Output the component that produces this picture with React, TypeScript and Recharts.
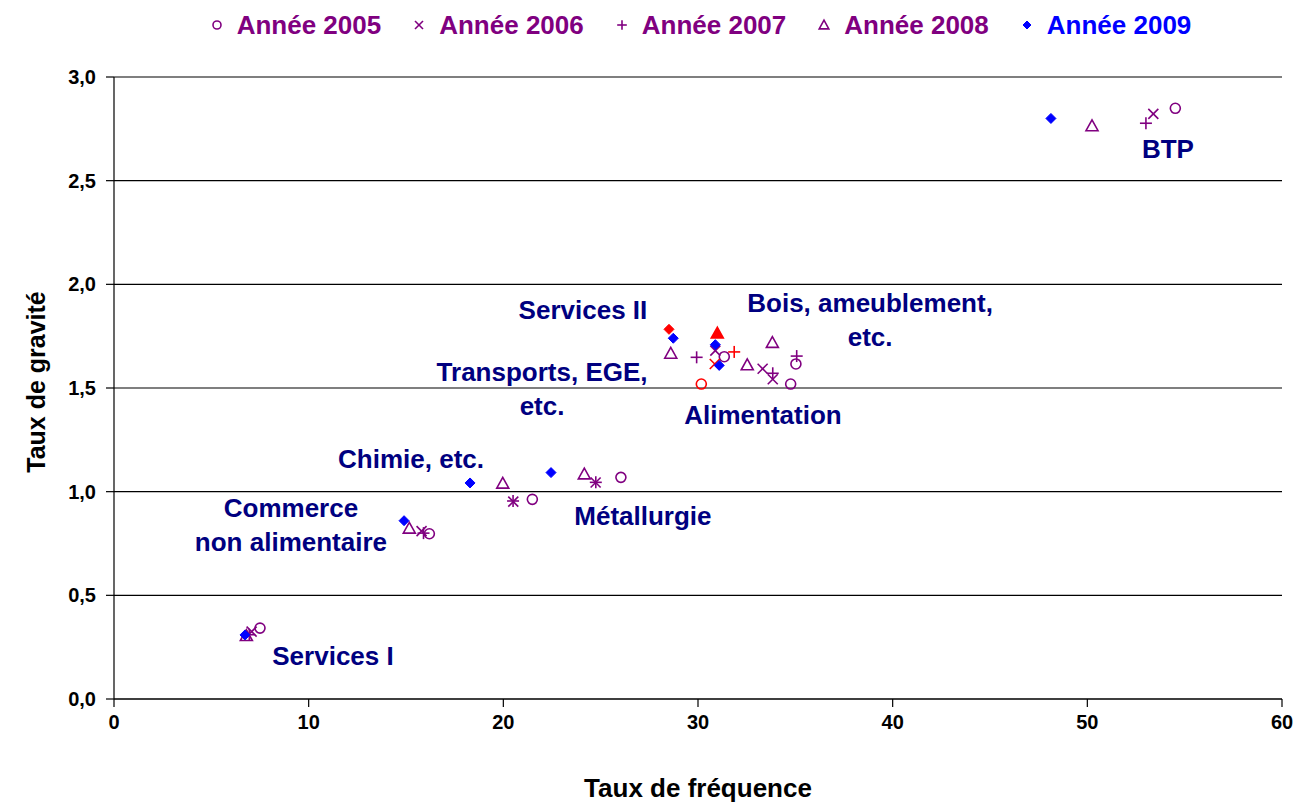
import React from 'react';
import { ScatterChart, Scatter, XAxis, YAxis, CartesianGrid } from 'recharts';

// ---- Data ----
const sectors = ['BTP', 'Services II', 'Bois, ameublement, etc.', 'Transports, EGE, etc.', 'Alimentation', 'Chimie, etc.', 'Métallurgie', 'Commerce non alimentaire', 'Services I'];
const highlightedSector = 'Transports, EGE, etc.';
const years = ['2005', '2006', '2007', '2008', '2009'];

const freq2005 = [54.52, 31.35, 35.03, 30.17, 34.76, 21.49, 26.04, 16.2, 7.5];
const grav2005 = [2.849, 1.651, 1.616, 1.519, 1.519, 0.963, 1.069, 0.797, 0.342];
const freq2006 = [53.39, 30.89, 33.32, 30.86, 33.84, 20.51, 24.74, 15.8, 7.07];
const grav2006 = [2.822, 1.68, 1.593, 1.616, 1.542, 0.952, 1.044, 0.81, 0.325];
const freq2007 = [53.01, 29.93, 35.07, 31.86, 33.84, 20.5, 24.75, 15.9, 6.95];
const grav2007 = [2.777, 1.648, 1.654, 1.674, 1.571, 0.955, 1.045, 0.80, 0.31];
const freq2008 = [50.24, 28.6, 33.82, 30.99, 32.53, 19.97, 24.16, 15.17, 6.8];
const grav2008 = [2.764, 1.667, 1.719, 1.764, 1.611, 1.04, 1.085, 0.823, 0.305];
const freq2009 = [48.13, 28.73, 30.89, 28.51, 31.09, 18.29, 22.45, 14.9, 6.73];
const grav2009 = [2.8, 1.74, 1.709, 1.783, 1.609, 1.042, 1.092, 0.86, 0.309];

const xTicks = [0, 10, 20, 30, 40, 50, 60];
const yTicks = [0, 0.5, 1, 1.5, 2, 2.5, 3];

const labelLines = [['BTP'], ['Services II'], ['Bois, ameublement,', 'etc.'], ['Transports, EGE,', 'etc.'], ['Alimentation'], ['Chimie, etc.'], ['Métallurgie'], ['Commerce', 'non alimentaire'], ['Services I']];
const labelX = [54.14, 24.09, 38.84, 21.99, 33.34, 15.26, 27.17, 9.09, 11.25];
const labelY = [2.653, 1.876, 1.828, 1.495, 1.37, 1.158, 0.883, 0.839, 0.207];

// ---- Styles ----
const FONT = '"Liberation Sans", Arial, Helvetica, sans-serif';
const PURPLE = '#800080';
const BLUE = '#0000FF';
const RED = '#FF0000';
const NAVY = '#000080';

type Kind = 'circle' | 'cross' | 'plus' | 'triangle' | 'diamond';
const yearKinds: Kind[] = ['circle', 'cross', 'plus', 'triangle', 'diamond'];
const yearColors = [PURPLE, PURPLE, PURPLE, PURPLE, BLUE];
const freqs = [freq2005, freq2006, freq2007, freq2008, freq2009];
const gravs = [grav2005, grav2006, grav2007, grav2008, grav2009];

function Marker({ kind, cx, cy, color, filled = false, s = 1 }: { kind: Kind; cx: number; cy: number; color: string; filled?: boolean; s?: number }) {
  const sw = 1.6;
  if (kind === 'circle') {
    return <circle cx={cx} cy={cy} r={5 * s} fill="none" stroke={color} strokeWidth={sw} />;
  }
  if (kind === 'cross') {
    const h = 5 * s;
    return (
      <g stroke={color} strokeWidth={sw}>
        <line x1={cx - h} y1={cy - h} x2={cx + h} y2={cy + h} />
        <line x1={cx - h} y1={cy + h} x2={cx + h} y2={cy - h} />
      </g>
    );
  }
  if (kind === 'plus') {
    const h = 6 * s;
    return (
      <g stroke={color} strokeWidth={sw}>
        <line x1={cx - h} y1={cy} x2={cx + h} y2={cy} />
        <line x1={cx} y1={cy - h} x2={cx} y2={cy + h} />
      </g>
    );
  }
  if (kind === 'triangle') {
    const h = 6 * s;
    const pts = `${cx},${cy - h} ${cx - h},${cy + h * 0.8} ${cx + h},${cy + h * 0.8}`;
    return <polygon points={pts} fill={filled ? color : 'none'} stroke={color} strokeWidth={sw} />;
  }
  const h = 5 * s;
  const pts = `${cx},${cy - h} ${cx + h},${cy} ${cx},${cy + h} ${cx - h},${cy}`;
  return <polygon points={pts} fill={color} stroke={color} strokeWidth={1} />;
}

const seriesData = years.map((yr, yi) =>
  sectors.map((sec, i) => ({
    x: freqs[yi][i],
    y: gravs[yi][i],
    sector: sec,
    color: sec === highlightedSector ? RED : yearColors[yi],
    filled: sec === highlightedSector,
  }))
);

const labelData = sectors.map((sec, i) => ({ x: labelX[i], y: labelY[i], lines: labelLines[i] }));

const yFmt = (v: number) => v.toFixed(1).replace('.', ',');

function SectorLabel(props: any) {
  const { cx, cy, payload } = props;
  const lines: string[] = payload.lines;
  const lh = 34;
  const start = cy - ((lines.length - 1) * lh) / 2;
  return (
    <text textAnchor="middle" fontFamily={FONT} fontWeight="bold" fontSize={26} fill={NAVY}>
      {lines.map((l, k) => (
        <tspan key={k} x={cx} y={start + k * lh} dominantBaseline="central">{l}</tspan>
      ))}
    </text>
  );
}

function Legend() {
  return (
    <div style={{ position: 'absolute', left: 114, top: 8, width: 1172, display: 'flex', justifyContent: 'center', fontFamily: FONT, fontWeight: 'bold', fontSize: 26 }}>
      {years.map((yr, yi) => (
        <div key={yr} style={{ display: 'flex', alignItems: 'center', marginRight: yi < 4 ? 30 : 0 }}>
          <svg width={16} height={16} style={{ marginRight: 12 }}>
            <Marker kind={yearKinds[yi]} cx={8} cy={8} color={yearColors[yi]} s={0.8} />
          </svg>
          <span style={{ color: yearColors[yi], lineHeight: '34px' }}>Année {yr}</span>
        </div>
      ))}
    </div>
  );
}

export default function App() {
  return (
    <div style={{ position: 'absolute', left: 0, top: 0, width: 1295, height: 805, background: '#fff' }}>
      <ScatterChart width={1295} height={805} margin={{ top: 77, right: 13, bottom: 0, left: 0 }}>
        <CartesianGrid horizontal={true} vertical={false} stroke="#000" strokeWidth={1.2} />
        <XAxis
          type="number"
          dataKey="x"
          domain={[0, 60]}
          ticks={xTicks}
          height={106}
          tickSize={8}
          tickMargin={8}
          stroke="#000"
          strokeWidth={1.2}
          tick={{ fontSize: 20, fontWeight: 'bold', fill: '#000', fontFamily: FONT }}
          label={{ value: 'Taux de fréquence', position: 'insideBottom', offset: 8, style: { fontSize: 26, fontWeight: 'bold', fill: '#000', fontFamily: FONT } }}
        />
        <YAxis
          type="number"
          dataKey="y"
          domain={[0, 3]}
          ticks={yTicks}
          width={114}
          tickSize={8}
          tickMargin={10}
          stroke="#000"
          strokeWidth={1.2}
          tickFormatter={yFmt}
          tick={{ fontSize: 20, fontWeight: 'bold', fill: '#000', fontFamily: FONT }}
          label={(p: any) => {
            const vb = p.viewBox;
            const x = 36;
            const y = vb.y + vb.height / 2 - 6;
            return (
              <text x={x} y={y} transform={`rotate(-90, ${x}, ${y})`} textAnchor="middle" dominantBaseline="central" fontFamily={FONT} fontWeight="bold" fontSize={25} fill="#000">
                Taux de gravité
              </text>
            );
          }}
        />
        {years.map((yr, yi) => (
          <Scatter
            key={yr}
            name={`Année ${yr}`}
            data={seriesData[yi]}
            isAnimationActive={false}
            shape={(p: any) => <Marker kind={yearKinds[yi]} cx={p.cx} cy={p.cy} color={p.payload.color} filled={p.payload.filled} />}
          />
        ))}
        <Scatter name="labels" data={labelData} isAnimationActive={false} shape={(p: any) => <SectorLabel {...p} />} />
      </ScatterChart>
      <Legend />
    </div>
  );
}
